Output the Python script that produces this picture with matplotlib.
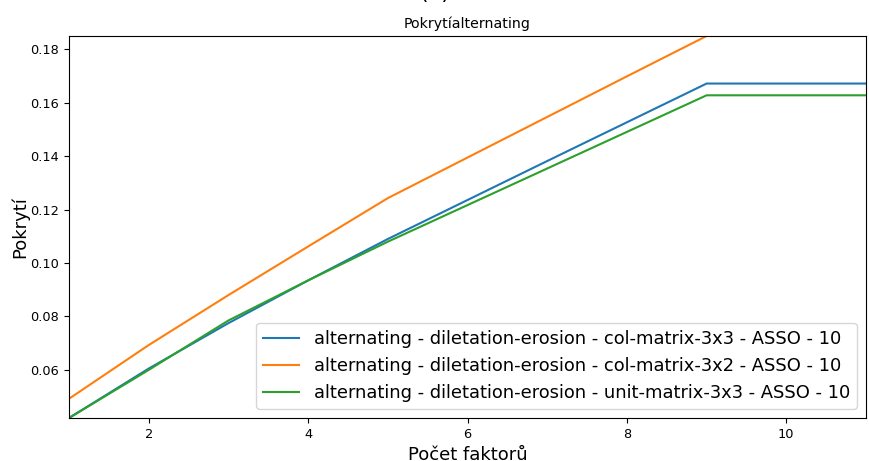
import matplotlib
matplotlib.use("Agg")
import matplotlib.pyplot as plt

x = [1, 2, 3, 4, 5, 6, 7, 8, 9, 10, 11]

col_3x3 = [0.0420, 0.0605, 0.0775, 0.0935, 0.1090, 0.1236, 0.1382, 0.1527, 0.1672, 0.1672, 0.1672]
col_3x2 = [0.0492, 0.0693, 0.0880, 0.1062, 0.1243, 0.1395, 0.1547, 0.1699, 0.1850, 0.1850, 0.1850]
unit_3x3 = [0.0420, 0.0600, 0.0785, 0.0935, 0.1080, 0.1217, 0.1354, 0.1491, 0.1628, 0.1628, 0.1628]

labels = [
    "alternating - diletation-erosion - col-matrix-3x3 - ASSO - 10",
    "alternating - diletation-erosion - col-matrix-3x2 - ASSO - 10",
    "alternating - diletation-erosion - unit-matrix-3x3 - ASSO - 10",
]

fig = plt.figure(figsize=(8.69, 4.61), dpi=100)
ax = fig.add_axes([69 / 869, 1 - 418 / 461, 797 / 869, 382 / 461])

ax.plot(x, col_3x3, label=labels[0])
ax.plot(x, col_3x2, label=labels[1])
ax.plot(x, unit_3x3, label=labels[2])

ax.set_xlim(1, 11)
ax.set_ylim(0.042, 0.185)
ax.tick_params(labelsize=9.3)
ax.set_title("Pokrytíalternating", fontsize=10.2)
ax.set_xlabel("Počet faktorů", fontsize=13)
ax.set_ylabel("Pokrytí", fontsize=13, labelpad=1)
ax.legend(loc="lower right", fontsize=12.9)

# suptitle mostly outside the saved area, as in the original
fig.text(0.5, 1 - 3 / 461, "(a)", ha="center", va="bottom", fontsize=16)

fig.savefig("out.png", dpi=100)
